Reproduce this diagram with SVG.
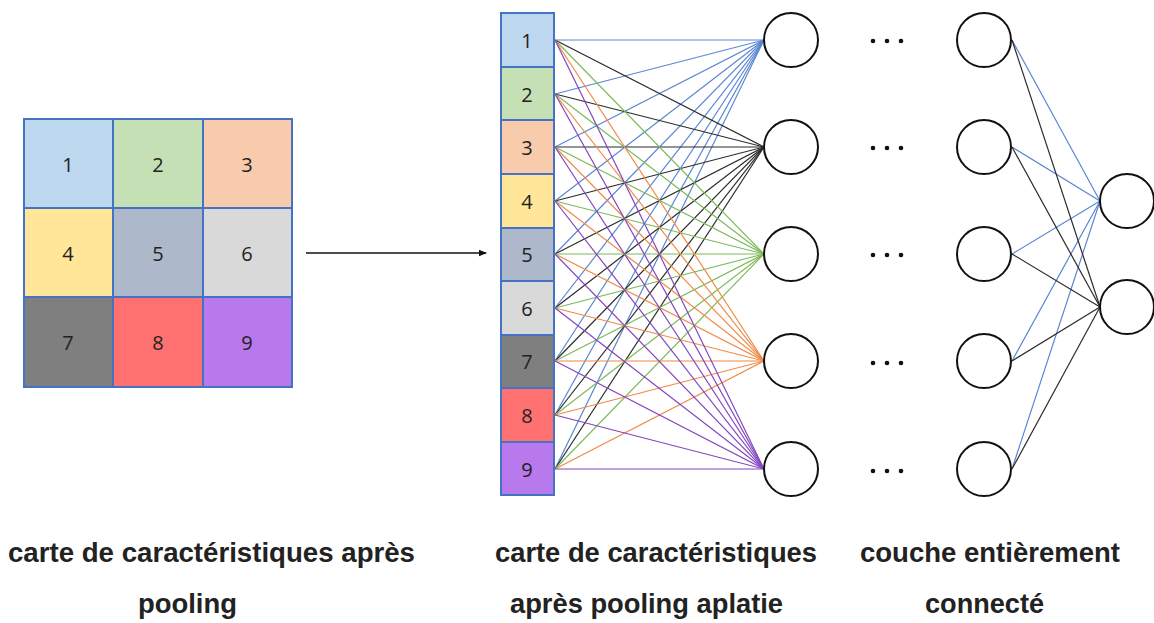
<svg xmlns="http://www.w3.org/2000/svg" width="1154" height="623" viewBox="0 0 1154 623">
  <style>
    .cell { stroke: #4472C4; stroke-width: 2; }
    .num { font-family: "Open Sans", "Liberation Sans", sans-serif; font-size: 20px; fill: #222; text-anchor: middle; dominant-baseline: central; }
    .neuron { fill: #fff; stroke: #111; stroke-width: 2; }
    .lbl { font-family: "Liberation Sans", Arial, sans-serif; font-weight: bold; font-size: 27px; fill: #222; }
    .c1 { stroke: #5A86D2; }
    .c2 { stroke: #2b2b2b; }
    .c3 { stroke: #7DB95A; }
    .c4 { stroke: #F08A45; }
    .c5 { stroke: #8446BE; }
    #connectors line { stroke-width: 1.2; fill: none; }
    .dot { fill: #111; }
  </style>
  <defs>
    <marker id="arrowhead" markerWidth="8" markerHeight="8" refX="7" refY="4" orient="auto" markerUnits="userSpaceOnUse">
      <path d="M0,0.8 L8,4 L0,7.2 Z" fill="#111"/>
    </marker>
  </defs>
  <rect width="1154" height="623" fill="#fff"/>

  <!-- pooled feature map, 3x3 -->
  <g id="pooled-map">
    <rect class="cell" x="24" y="119" width="89" height="89" fill="#BDD7EE"/>
    <rect class="cell" x="113" y="119" width="90" height="89" fill="#C5E0B4"/>
    <rect class="cell" x="203" y="119" width="89" height="89" fill="#F8CBAD"/>
    <rect class="cell" x="24" y="208" width="89" height="89" fill="#FFE699"/>
    <rect class="cell" x="113" y="208" width="90" height="89" fill="#ADB9CA"/>
    <rect class="cell" x="203" y="208" width="89" height="89" fill="#D9D9D9"/>
    <rect class="cell" x="24" y="297" width="89" height="90" fill="#7F7F7F"/>
    <rect class="cell" x="113" y="297" width="90" height="90" fill="#FF7171"/>
    <rect class="cell" x="203" y="297" width="89" height="90" fill="#B879EC"/>
    <text class="num" x="68" y="164">1</text>
    <text class="num" x="158" y="164">2</text>
    <text class="num" x="247" y="164">3</text>
    <text class="num" x="68" y="253">4</text>
    <text class="num" x="158" y="253">5</text>
    <text class="num" x="247" y="253">6</text>
    <text class="num" x="68" y="342">7</text>
    <text class="num" x="158" y="342">8</text>
    <text class="num" x="247" y="342">9</text>
  </g>

  <!-- flattened vector -->
  <g id="flattened">
    <rect class="cell" x="501" y="13" width="53" height="54" fill="#BDD7EE"/>
    <rect class="cell" x="501" y="67" width="53" height="53" fill="#C5E0B4"/>
    <rect class="cell" x="501" y="120" width="53" height="54" fill="#F8CBAD"/>
    <rect class="cell" x="501" y="174" width="53" height="54" fill="#FFE699"/>
    <rect class="cell" x="501" y="228" width="53" height="53" fill="#ADB9CA"/>
    <rect class="cell" x="501" y="281" width="53" height="54" fill="#D9D9D9"/>
    <rect class="cell" x="501" y="335" width="53" height="53" fill="#7F7F7F"/>
    <rect class="cell" x="501" y="388" width="53" height="54" fill="#FF7171"/>
    <rect class="cell" x="501" y="442" width="53" height="53" fill="#B879EC"/>
    <text class="num" x="527" y="40">1</text>
    <text class="num" x="527" y="94">2</text>
    <text class="num" x="527" y="147">3</text>
    <text class="num" x="527" y="201">4</text>
    <text class="num" x="527" y="254">5</text>
    <text class="num" x="527" y="308">6</text>
    <text class="num" x="527" y="361">7</text>
    <text class="num" x="527" y="415">8</text>
    <text class="num" x="527" y="469">9</text>
  </g>

  <g id="connectors">
    <!-- pooling -> flatten -->
    <line x1="306" y1="253" x2="486" y2="253" style="stroke:#111;stroke-width:1.5" marker-end="url(#arrowhead)"/>
    <!-- to neuron 1 -->
    <g class="c1">
      <line x1="555" y1="40" x2="764" y2="40"/>
      <line x1="555" y1="94" x2="764" y2="40"/>
      <line x1="555" y1="147" x2="764" y2="40"/>
      <line x1="555" y1="201" x2="764" y2="40"/>
      <line x1="555" y1="254" x2="764" y2="40"/>
      <line x1="555" y1="308" x2="764" y2="40"/>
      <line x1="555" y1="361" x2="764" y2="40"/>
      <line x1="555" y1="415" x2="764" y2="40"/>
      <line x1="555" y1="469" x2="764" y2="40"/>
    </g>
    <!-- to neuron 2 -->
    <g class="c2">
      <line x1="555" y1="40" x2="764" y2="147"/>
      <line x1="555" y1="94" x2="764" y2="147"/>
      <line x1="555" y1="147" x2="764" y2="147"/>
      <line x1="555" y1="201" x2="764" y2="147"/>
      <line x1="555" y1="254" x2="764" y2="147"/>
      <line x1="555" y1="308" x2="764" y2="147"/>
      <line x1="555" y1="361" x2="764" y2="147"/>
      <line x1="555" y1="415" x2="764" y2="147"/>
      <line x1="555" y1="469" x2="764" y2="147"/>
    </g>
    <!-- to neuron 3 -->
    <g class="c3">
      <line x1="555" y1="40" x2="764" y2="254"/>
      <line x1="555" y1="94" x2="764" y2="254"/>
      <line x1="555" y1="147" x2="764" y2="254"/>
      <line x1="555" y1="201" x2="764" y2="254"/>
      <line x1="555" y1="254" x2="764" y2="254"/>
      <line x1="555" y1="308" x2="764" y2="254"/>
      <line x1="555" y1="361" x2="764" y2="254"/>
      <line x1="555" y1="415" x2="764" y2="254"/>
      <line x1="555" y1="469" x2="764" y2="254"/>
    </g>
    <!-- to neuron 4 -->
    <g class="c4">
      <line x1="555" y1="40" x2="764" y2="361"/>
      <line x1="555" y1="94" x2="764" y2="361"/>
      <line x1="555" y1="147" x2="764" y2="361"/>
      <line x1="555" y1="201" x2="764" y2="361"/>
      <line x1="555" y1="254" x2="764" y2="361"/>
      <line x1="555" y1="308" x2="764" y2="361"/>
      <line x1="555" y1="361" x2="764" y2="361"/>
      <line x1="555" y1="415" x2="764" y2="361"/>
      <line x1="555" y1="469" x2="764" y2="361"/>
    </g>
    <!-- to neuron 5 -->
    <g class="c5">
      <line x1="555" y1="40" x2="764" y2="469"/>
      <line x1="555" y1="94" x2="764" y2="469"/>
      <line x1="555" y1="147" x2="764" y2="469"/>
      <line x1="555" y1="201" x2="764" y2="469"/>
      <line x1="555" y1="254" x2="764" y2="469"/>
      <line x1="555" y1="308" x2="764" y2="469"/>
      <line x1="555" y1="361" x2="764" y2="469"/>
      <line x1="555" y1="415" x2="764" y2="469"/>
      <line x1="555" y1="469" x2="764" y2="469"/>
    </g>
    <!-- last hidden layer -> outputs -->
    <g class="c1">
      <line x1="1012" y1="40" x2="1100" y2="201"/>
      <line x1="1012" y1="147" x2="1100" y2="201"/>
      <line x1="1012" y1="254" x2="1100" y2="201"/>
      <line x1="1012" y1="361" x2="1100" y2="201"/>
      <line x1="1012" y1="469" x2="1100" y2="201"/>
    </g>
    <g class="c2">
      <line x1="1012" y1="40" x2="1100" y2="307"/>
      <line x1="1012" y1="147" x2="1100" y2="307"/>
      <line x1="1012" y1="254" x2="1100" y2="307"/>
      <line x1="1012" y1="361" x2="1100" y2="307"/>
      <line x1="1012" y1="469" x2="1100" y2="307"/>
    </g>
  </g>

  <!-- first dense layer -->
  <g id="dense-1">
    <circle class="neuron" cx="791" cy="40" r="27"/>
    <circle class="neuron" cx="791" cy="147" r="27"/>
    <circle class="neuron" cx="791" cy="254" r="27"/>
    <circle class="neuron" cx="791" cy="361" r="27"/>
    <circle class="neuron" cx="791" cy="469" r="27"/>
  </g>

  <!-- ellipsis between layers -->
  <g id="ellipsis">
    <circle class="dot" cx="873" cy="41" r="2.3"/><circle class="dot" cx="887" cy="41" r="2.3"/><circle class="dot" cx="901" cy="41" r="2.3"/>
    <circle class="dot" cx="873" cy="148" r="2.3"/><circle class="dot" cx="887" cy="148" r="2.3"/><circle class="dot" cx="901" cy="148" r="2.3"/>
    <circle class="dot" cx="873" cy="255" r="2.3"/><circle class="dot" cx="887" cy="255" r="2.3"/><circle class="dot" cx="901" cy="255" r="2.3"/>
    <circle class="dot" cx="873" cy="363" r="2.3"/><circle class="dot" cx="887" cy="363" r="2.3"/><circle class="dot" cx="901" cy="363" r="2.3"/>
    <circle class="dot" cx="873" cy="471" r="2.3"/><circle class="dot" cx="887" cy="471" r="2.3"/><circle class="dot" cx="901" cy="471" r="2.3"/>
  </g>

  <!-- last dense layer -->
  <g id="dense-n">
    <circle class="neuron" cx="984" cy="40" r="27"/>
    <circle class="neuron" cx="984" cy="147" r="27"/>
    <circle class="neuron" cx="984" cy="254" r="27"/>
    <circle class="neuron" cx="984" cy="361" r="27"/>
    <circle class="neuron" cx="984" cy="469" r="27"/>
  </g>

  <!-- output layer -->
  <g id="output">
    <circle class="neuron" cx="1127" cy="201" r="27"/>
    <circle class="neuron" cx="1127" cy="307" r="27"/>
  </g>

  <!-- captions -->
  <g id="captions">
    <text class="lbl" x="8" y="562" textLength="407" lengthAdjust="spacingAndGlyphs">carte de caractéristiques après</text>
    <text class="lbl" x="138" y="613" textLength="99" lengthAdjust="spacingAndGlyphs">pooling</text>
    <text class="lbl" x="495" y="562" textLength="322" lengthAdjust="spacingAndGlyphs">carte de caractéristiques</text>
    <text class="lbl" x="510" y="613" textLength="273" lengthAdjust="spacingAndGlyphs">après pooling aplatie</text>
    <text class="lbl" x="860" y="562" textLength="260" lengthAdjust="spacingAndGlyphs">couche entièrement</text>
    <text class="lbl" x="925" y="613" textLength="119" lengthAdjust="spacingAndGlyphs">connecté</text>
  </g>
</svg>
